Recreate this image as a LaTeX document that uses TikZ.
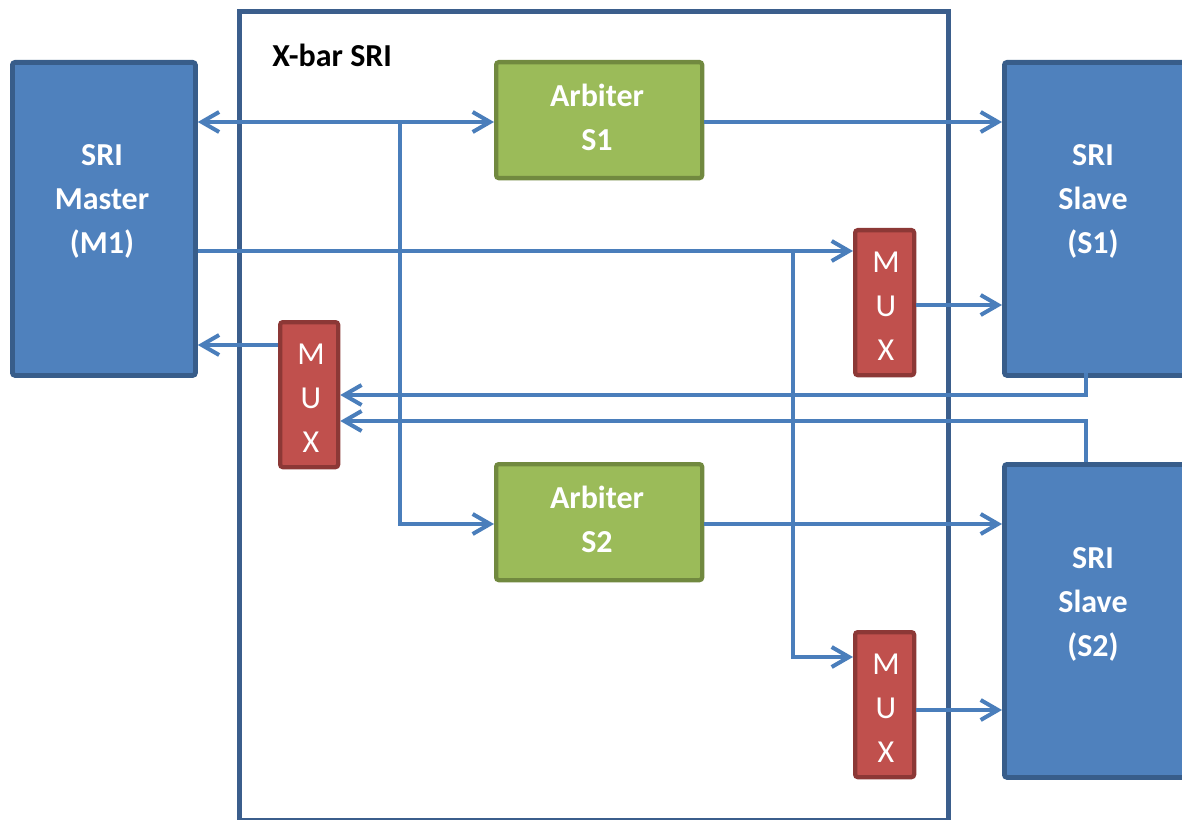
\documentclass[tikz,border=0pt]{standalone}
\usepackage{fontspec}
\setmainfont{Carlito}
\usetikzlibrary{arrows.meta,calc}
\definecolor{bfill}{HTML}{4F81BD}
\definecolor{bdraw}{HTML}{385D8A}
\definecolor{gfill}{HTML}{9BBB59}
\definecolor{gdraw}{HTML}{71893F}
\definecolor{rfill}{HTML}{C0504D}
\definecolor{rdraw}{HTML}{8C3836}
\definecolor{lineblue}{HTML}{4A7EBB}
\definecolor{framecol}{HTML}{3B5E8C}
\tikzset{
  box/.style={rectangle, rounded corners=2pt, anchor=north west, inner sep=0pt},
  bluebox/.style={box, fill=bfill, draw=bdraw, line width=3.6pt},
  greenbox/.style={box, fill=gfill, draw=gdraw, line width=3.2pt},
  redbox/.style={box, fill=rfill, draw=rdraw, line width=3.2pt},
  lbl/.style={text=white, font=\bfseries\fontsize{24}{33}\selectfont, align=center, inner sep=0pt},
  muxlbl/.style={text=white, font=\fontsize{24}{33}\selectfont, align=center, inner sep=0pt},
  conn/.style={draw=lineblue, line width=3pt, arrows={-}},
  tip/.style={-{Straight Barb[length=13pt,width=15pt,line width=3pt]}},
  bitip/.style={{Straight Barb[length=13pt,width=15pt,line width=3pt]}-{Straight Barb[length=13pt,width=15pt,line width=3pt]}},
}
\begin{document}
\begin{tikzpicture}[x=0.75pt,y=-0.75pt]
\useasboundingbox (0,0) rectangle (1182,820);
% outer frame
\node[box, draw=framecol, line width=3.6pt, minimum width={709*0.75pt}, minimum height={809*0.75pt}, rounded corners=0pt] (xbar) at (237,9) {};
\node[anchor=west, font=\bfseries\fontsize{24}{28}\selectfont, inner sep=0pt] (title) at (272,55) {X-bar SRI};
% blocks
\node[bluebox, minimum width={183*0.75pt}, minimum height={313*0.75pt}] (m1) at (10,60) {};
\node[lbl] (m1t) at (102,201) {SRI\\Master\\(M1)};
\node[bluebox, minimum width={192*0.75pt}, minimum height={313*0.75pt}] (s1) at (1002,60) {};
\node[lbl] (s1t) at (1093,201) {SRI\\Slave\\(S1)};
\node[bluebox, minimum width={192*0.75pt}, minimum height={313*0.75pt}] (s2) at (1002,462) {};
\node[lbl] (s2t) at (1093,604) {SRI\\Slave\\(S2)};
\node[greenbox, minimum width={206*0.75pt}, minimum height={116*0.75pt}] (arb1) at (494,60) {};
\node[lbl] (arb1t) at (597,117) {Arbiter\\S1};
\node[greenbox, minimum width={206*0.75pt}, minimum height={116*0.75pt}] (arb2) at (494,462) {};
\node[lbl] (arb2t) at (597,519) {Arbiter\\S2};
\node[redbox, minimum width={59*0.75pt}, minimum height={145*0.75pt}] (mux1) at (853,228) {};
\node[muxlbl] (mux1t) at (886,306) {M\\U\\X};
\node[redbox, minimum width={58*0.75pt}, minimum height={145*0.75pt}] (muxm) at (278,320) {};
\node[muxlbl] (muxmt) at (311,398) {M\\U\\X};
\node[redbox, minimum width={59*0.75pt}, minimum height={145*0.75pt}] (mux2) at (853,630) {};
\node[muxlbl] (mux2t) at (886,708) {M\\U\\X};
% coordinates
\coordinate (y122) at (0,122);
\coordinate (y251) at (0,251);
\coordinate (y305) at (0,305);
\coordinate (y345) at (0,345);
\coordinate (y395) at (0,395);
\coordinate (y421) at (0,421);
\coordinate (y524) at (0,524);
\coordinate (y657) at (0,657);
\coordinate (y710) at (0,710);
\coordinate (j1) at (400,122);
\coordinate (j2) at (793,251);
\coordinate (s1b) at (1086,373);
\coordinate (s2t0) at (1086,462);
% connectors
\draw[conn,bitip] (m1.east |- y122) -- (arb1.west |- y122);
\draw[conn,tip] (j1) |- (arb2.west |- y524);
\draw[conn,tip] (arb1.east |- y122) -- (s1.west |- y122);
\draw[conn,tip] (m1.east |- y251) -- (mux1.west |- y251);
\draw[conn,tip] (j2) |- (mux2.west |- y657);
\draw[conn,tip] (mux1.east |- y305) -- (s1.west |- y305);
\draw[conn,tip] (muxm.west |- y345) -- (m1.east |- y345);
\draw[conn,tip] (s1b) |- (muxm.east |- y395);
\draw[conn,tip] (s2t0) |- (muxm.east |- y421);
\draw[conn,tip] (arb2.east |- y524) -- (s2.west |- y524);
\draw[conn,tip] (mux2.east |- y710) -- (s2.west |- y710);
\end{tikzpicture}
\end{document}
